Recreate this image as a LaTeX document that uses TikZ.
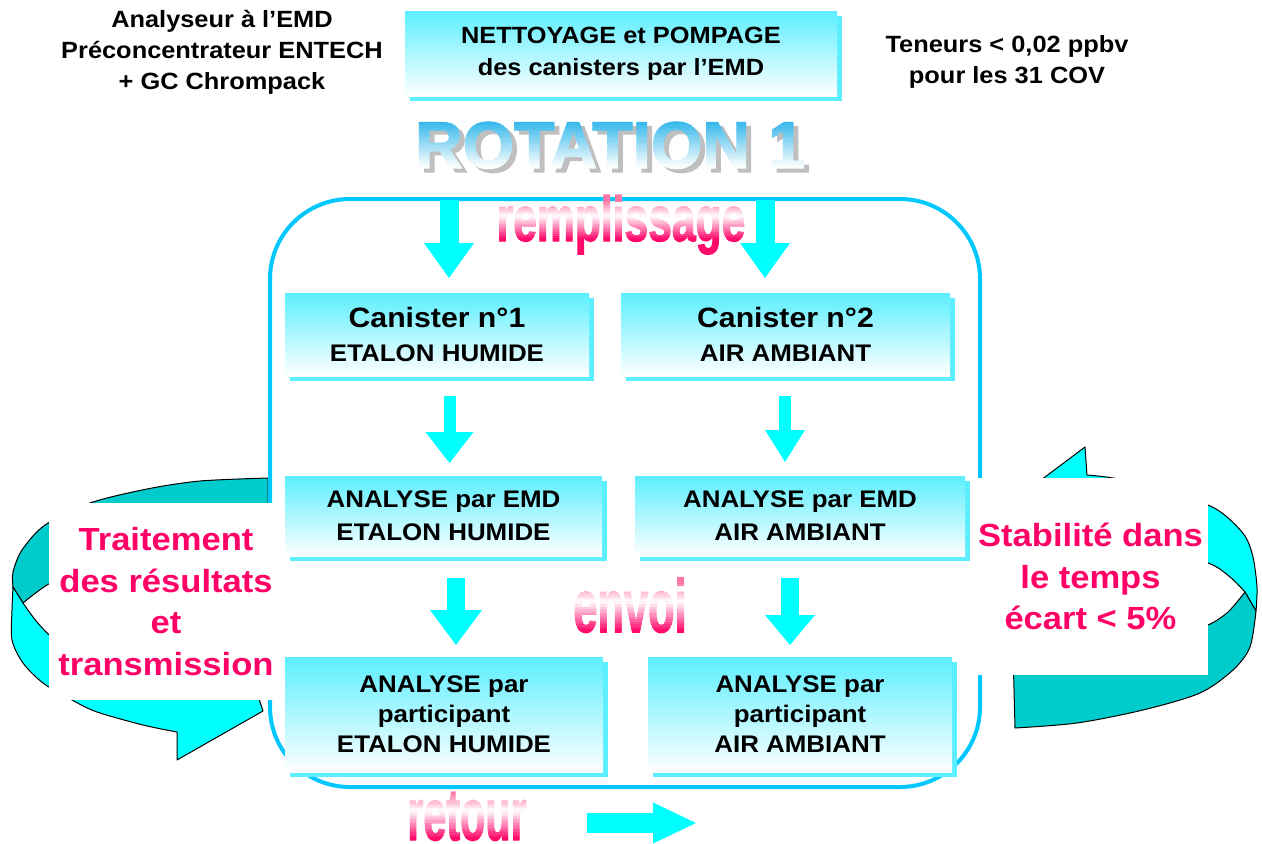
\documentclass[tikz,border=0pt]{standalone}
\usepackage{graphicx}
\usepackage{fontspec}
\setmainfont[FakeStretch=1.08]{Liberation Sans}
\newfontfamily\heavy[FakeBold=2]{Liberation Sans}
\usetikzlibrary{arrows.meta,shadows}
\definecolor{boxcyan}{HTML}{5CEFFF}
\definecolor{contblue}{HTML}{00C8FF}
\definecolor{arrcyan}{HTML}{00FFFF}
\definecolor{ribdark}{HTML}{00CCCC}
\definecolor{pinkc}{HTML}{FF0066}
\definecolor{pinktop}{HTML}{FF6F9F}
\definecolor{rotblue}{HTML}{2FB6EA}
\newcommand\gradword[8]{%
\foreach \gi in {0,...,19}{%
 \pgfmathsetmacro\gya{\gi==0 ? #4-80 : #4+(#3-#4)*\gi/20}%
 \pgfmathsetmacro\gyb{\gi==19 ? #3+80 : #4+(#3-#4)*(\gi+1)/20}%
 \pgfmathsetmacro\gtt{(\gi+0.5)/20}%
 \ifdim\gtt pt<#7pt
   \pgfmathsetmacro\gpc{100*(1-\gtt/#7)}\edef\gcol{#5!\gpc!white}%
 \else
   \pgfmathsetmacro\gpc{100*(\gtt-#7)/(1-#7)}\edef\gcol{#6!\gpc!white}%
 \fi
 \begin{scope}
 \clip (#2-300,\gya) rectangle (#2+300,\gyb);
 \node[anchor=base, inner sep=0pt, text=\gcol] (#1\gi) at (#2,#3) {#8};
 \end{scope}}}
\begin{document}
\begin{tikzpicture}[x=1pt,y=-1pt,
  box/.style={inner sep=0pt, align=center, font=\bfseries\fontsize{24}{33}\selectfont,
    top color=boxcyan, bottom color=white,
    drop shadow={fill=boxcyan, opacity=1, shadow xshift=5pt, shadow yshift=-5pt}},
  wbox/.style={fill=white, inner sep=0pt, align=center, text=pinkc,
    font=\bfseries\fontsize{32}{41.7}\selectfont},
  ribback/.style={fill=ribdark, draw=black, line width=1pt, line join=round},
  ribfront/.style={fill=arrcyan, draw=black, line width=1pt, line join=round},
  cont/.style={draw=contblue, line width=4pt, rounded corners=80pt},
  blk/.style n args={3}{draw=arrcyan, line width=#1, -{Triangle[width=#2,length=#3,line width=0pt,fill=arrcyan]}},
  lab/.style={align=center, font=\bfseries\fontsize{23.5}{31}\selectfont}]
\useasboundingbox (0,0) rectangle (1262,844);

% ribbons
\filldraw[ribback] (268,478) -- plot[smooth] coordinates {(268,478) (200,481) (147,489) (90,503) (45,525) (22,550) (13,572) (13,587)} -- (23,603) -- plot[smooth] coordinates {(23,603) (37,592) (55,581) (100,567) (180,553) (268,546)} -- cycle;
\filldraw[ribfront] (13,587) -- plot[smooth] coordinates {(13,587) (12,610) (12,640) (23,663) (43,683) (72,700) (97,712) (143,725) (177,732)} -- (177,760) -- (263,711) -- (250,672) -- (177,690) -- plot[smooth] coordinates {(177,690) (140,683) (90,664) (55,640) (37,622) (23,603)} -- cycle;
\filldraw[ribfront] (1085,447) -- (1087,475) -- plot[smooth] coordinates {(1087,475) (1113,478) (1160,488) (1208,505) (1227,517) (1245,536) (1253,557) (1257,587) (1256,611)} -- (1245,592) -- plot[smooth] coordinates {(1245,592) (1230,577) (1208,563) (1150,548) (1090,528) (1060,510)} -- (1025,492) -- cycle;
\filldraw[ribback] (1256,611) -- plot[smooth] coordinates {(1256,611) (1250,647) (1233,670) (1200,693) (1143,710) (1077,723) (1015,728)} -- (1013,650) -- plot[smooth] coordinates {(1013,650) (1100,642) (1180,632) (1208,625) (1228,612) (1245,592)} -- cycle;

% container
\draw[cont] (270,199) rectangle (980,787);

% white text boxes
\node[wbox, minimum width=234pt, minimum height=197pt] (wl) at (166,601.5) {Traitement\\des résultats\\et\\transmission};
\node[wbox, minimum width=235pt, minimum height=197pt] (wr) at (1090.5,576.5) {Stabilité dans\\le temps\\écart < 5\%};

% top labels
\node[lab] (lab1) at (222,52) {Analyseur à l’EMD\\Préconcentrateur ENTECH\\+ GC Chrompack};
\node[lab] (lab2) at (1007,62) {Teneurs < 0,02 ppbv\\pour les 31 COV};

% boxes
\node[box, minimum width=432pt, minimum height=85pt, font=\bfseries\fontsize{23.5}{32}\selectfont] (b0) at (621,53.5) {NETTOYAGE et POMPAGE\\des canisters par l’EMD};
\node[box, minimum width=304pt, minimum height=83pt, font=\bfseries\fontsize{24}{34}\selectfont] (b1) at (437,334.5) {{\fontsize{28}{34}\selectfont Canister n°1}\\ETALON HUMIDE};
\node[box, minimum width=329pt, minimum height=83pt, font=\bfseries\fontsize{24}{34}\selectfont] (b2) at (785.5,334.5) {{\fontsize{28}{34}\selectfont Canister n°2}\\AIR AMBIANT};
\node[box, minimum width=317pt, minimum height=80pt] (b3) at (443.5,516) {ANALYSE par EMD\\ETALON HUMIDE};
\node[box, minimum width=330pt, minimum height=80pt] (b4) at (800,516) {ANALYSE par EMD\\AIR AMBIANT};
\node[box, minimum width=318pt, minimum height=115pt, font=\bfseries\fontsize{24}{30}\selectfont] (b5) at (444,714.5) {ANALYSE par\\participant\\ETALON HUMIDE};
\node[box, minimum width=304pt, minimum height=115pt, font=\bfseries\fontsize{24}{30}\selectfont] (b6) at (800,714.5) {ANALYSE par\\participant\\AIR AMBIANT};

% block arrows
\coordinate (a1s) at (449,200); \coordinate (a1e) at (449,278);
\coordinate (a2s) at (765,200); \coordinate (a2e) at (765,278);
\coordinate (a3s) at (449.5,396); \coordinate (a3e) at (449.5,463);
\coordinate (a4s) at (785,396); \coordinate (a4e) at (785,462);
\coordinate (a5s) at (456,578); \coordinate (a5e) at (456,645);
\coordinate (a6s) at (790,578); \coordinate (a6e) at (790,645);
\coordinate (a7s) at (587,823); \coordinate (a7e) at (696,823);
\draw[blk={19pt}{50pt}{35pt}] (a1s) -- (a1e);
\draw[blk={19pt}{50pt}{35pt}] (a2s) -- (a2e);
\draw[blk={12pt}{48pt}{31pt}] (a3s) -- (a3e);
\draw[blk={12pt}{40pt}{32pt}] (a4s) -- (a4e);
\draw[blk={18pt}{52pt}{35pt}] (a5s) -- (a5e);
\draw[blk={18pt}{50pt}{30pt}] (a6s) -- (a6e);
\draw[blk={20pt}{41pt}{43pt}] (a7s) -- (a7e);

% ROTATION 1
\node[anchor=base, inner sep=0pt, text=black!25] (rotsh) at (615,172) {\heavy\bfseries\fontsize{66}{66}\selectfont ROTATION 1};
\gradword{rot}{610}{168}{121}{rotblue}{white}{1}{\heavy\bfseries\fontsize{66}{66}\selectfont ROTATION 1}

% pink words
\gradword{rem}{621}{241}{200}{pinktop}{pinkc}{0.4}{\scalebox{0.71}[1.06]{\heavy\bfseries\fontsize{60}{60}\selectfont remplissage}}
\gradword{env}{630}{632}{582}{pinktop}{pinkc}{0.4}{\scalebox{0.62}[1.07]{\heavy\bfseries\fontsize{70}{70}\selectfont envoi}}
\gradword{ret}{467}{840}{792}{pinktop}{pinkc}{0.4}{\scalebox{0.59}[1.05]{\heavy\bfseries\fontsize{70}{70}\selectfont retour}}
\end{tikzpicture}
\end{document}
